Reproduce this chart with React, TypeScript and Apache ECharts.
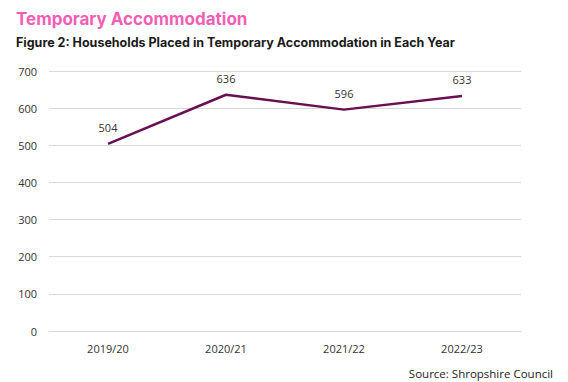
import React, { useEffect, useRef } from "react";
import * as echarts from "echarts";

const categories = ["2019/20", "2020/21", "2021/22", "2022/23"];
const households = [504, 636, 596, 633];
const yTicks = { min: 0, max: 700, interval: 100 };

export default function App() {
  const ref = useRef<HTMLDivElement>(null);
  useEffect(() => {
    if (!ref.current) return;
    const chart = echarts.init(ref.current, undefined, { renderer: "svg" });
    chart.setOption({
      animation: false,
      backgroundColor: "#ffffff",
      textStyle: { fontFamily: "Open Sans" },
      title: [
        {
          text: "Temporary Accommodation",
          left: 11,
          top: 5,
          textStyle: { fontFamily: "Inter", fontWeight: "bold", fontSize: 17, color: "#F15FB4" },
        },
        {
          text: "Figure 2: Households Placed in Temporary Accommodation in Each Year",
          left: 11,
          top: 31,
          textStyle: { fontFamily: "Inter", fontWeight: "bold", fontSize: 12.5, color: "#1a1a1a" },
        },
        {
          text: "Source: Shropshire Council",
          right: 10,
          top: 362,
          textStyle: { fontFamily: "Open Sans", fontWeight: "normal", fontSize: 11.5, color: "#222" },
        },
      ],
      grid: { left: 49, right: 47, top: 71, bottom: 51, containLabel: false },
      xAxis: {
        type: "category",
        data: categories,
        boundaryGap: true,
        axisLine: { show: true, lineStyle: { color: "#d9d9d9" } },
        axisTick: { show: false },
        axisLabel: { color: "#333", fontSize: 11, margin: 12 },
      },
      yAxis: {
        type: "value",
        min: yTicks.min,
        max: yTicks.max,
        interval: yTicks.interval,
        axisLine: { show: false },
        axisTick: { show: false },
        axisLabel: { color: "#333", fontSize: 11, margin: 12 },
        splitLine: { lineStyle: { color: "#d9d9d9" } },
      },
      series: [
        {
          type: "line",
          data: households,
          symbol: "circle",
          symbolSize: 2,
          showSymbol: true,
          itemStyle: { color: "rgba(0,0,0,0)", borderWidth: 0 },
          lineStyle: { color: "#6A0F52", width: 2.5 },
          label: {
            show: true,
            position: "top",
            distance: 10,
            color: "#333",
            fontSize: 11,
          },
        },
      ],
    });
    return () => chart.dispose();
  }, []);
  return (
    <div
      ref={ref}
      style={{ position: "absolute", left: 0, top: 0, width: 568, height: 382 }}
    />
  );
}
